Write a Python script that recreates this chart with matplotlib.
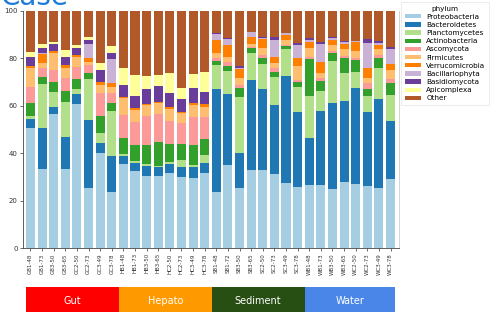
"""Stacked phylum composition per sample, with habitat strips underneath."""
import matplotlib

matplotlib.use("Agg")
import matplotlib.pyplot as plt  # noqa: E402
import numpy as np  # noqa: E402

SAMPLES = [
    "GB1-48", "GB1-73", "GB3-50", "GB3-65", "GC2-50", "GC2-73", "GC3-49", "GC3-78",
    "HB1-48", "HB1-73", "HB3-50", "HB3-65", "HC2-50", "HC2-73", "HC3-49", "HC3-78",
    "SB1-48", "SB1-72", "SB3-50", "SB3-65", "SC2-50", "SC2-73", "SC3-49", "SC3-78",
    "WB1-48", "WB1-73", "WB3-50", "WB3-65", "WC2-50", "WC2-73", "WC3-49", "WC3-78",
]

PHYLA = [
    "Proteobacteria", "Bacteroidetes", "Planctomycetes", "Actinobacteria",
    "Ascomycota", "Firmicutes", "Verrucomicrobia", "Bacillariophyta",
    "Basidiomycota", "Apicomplexa", "Other",
]

# relative abundance (%) per sample
proteobacteria = [50.8, 33.3, 56.4, 33.3, 60.6, 25.3, 40.0, 23.9,
                  35.5, 32.7, 30.6, 30.5, 31.6, 29.9, 29.5, 31.6,
                  23.9, 35.1, 25.3, 33.0, 33.0, 31.2, 27.4, 26.0,
                  26.7, 26.7, 25.0, 28.1, 27.1, 26.2, 25.3, 29.2]
bacteroidetes = [3.7, 17.2, 3.2, 13.7, 4.2, 28.7, 4.2, 15.0,
                 3.4, 3.4, 4.1, 3.6, 3.8, 4.5, 4.6, 4.2,
                 43.0, 29.7, 15.0, 37.9, 33.9, 29.2, 45.3, 31.3,
                 19.6, 31.1, 36.3, 33.9, 40.3, 31.1, 37.4, 24.4]
planctomycetes = [1.2, 18.5, 6.1, 14.5, 2.3, 17.3, 4.2, 18.9,
                  0.7, 0.8, 0.7, 0.7, 0.8, 2.8, 1.0, 3.5,
                  10.3, 10.0, 23.6, 11.5, 10.6, 11.6, 11.2, 10.8,
                  18.0, 8.4, 17.6, 12.0, 7.0, 7.0, 13.4, 11.0]
actinobacteria = [5.4, 3.3, 4.5, 4.7, 4.2, 2.7, 7.5, 3.2,
                  7.0, 6.6, 8.1, 9.8, 7.6, 6.6, 8.4, 6.7,
                  1.7, 2.0, 3.5, 1.8, 2.8, 2.1, 1.4, 1.8,
                  15.3, 4.3, 3.5, 6.3, 4.9, 2.8, 4.2, 5.2]
ascomycota = [7.0, 3.5, 4.9, 5.4, 5.2, 3.2, 9.4, 4.3,
              9.5, 9.8, 12.2, 11.8, 9.8, 8.8, 11.9, 9.4,
              1.4, 1.5, 1.4, 0.5, 1.1, 1.7, 0.5, 1.0,
              1.1, 1.1, 0.8, 0.7, 1.0, 2.4, 1.1, 1.5]
firmicutes = [7.7, 2.1, 7.3, 4.2, 4.2, 1.4, 3.5, 2.5,
              7.1, 4.9, 4.7, 4.9, 5.1, 4.2, 5.0, 4.2,
              2.1, 2.4, 2.8, 1.2, 2.8, 2.1, 1.9, 5.9,
              3.8, 2.4, 2.4, 2.8, 2.8, 2.1, 2.4, 3.8]
verrucomicrobia = [1.0, 3.8, 0.7, 1.4, 0.7, 1.7, 1.1, 1.7,
                   0.7, 0.7, 0.5, 0.5, 0.9, 0.7, 0.6, 1.0,
                   5.3, 4.9, 3.9, 3.2, 3.8, 2.5, 2.1, 3.2,
                   2.2, 4.6, 2.1, 2.1, 3.6, 4.5, 1.8, 2.4]
bacillariophyta = [0.0, 0.7, 0.0, 0.0, 0.0, 5.6, 0.0, 10.2,
                   0.0, 0.0, 0.0, 0.0, 0.0, 0.0, 0.0, 0.0,
                   2.4, 2.4, 0.6, 1.8, 0.7, 7.3, 0.7, 5.6,
                   1.0, 7.3, 1.0, 0.8, 0.6, 10.2, 1.0, 6.3]
basidiomycota = [3.9, 2.1, 2.8, 3.5, 2.8, 1.8, 5.2, 2.7,
                 4.9, 5.4, 6.0, 6.6, 5.7, 5.2, 6.6, 5.1,
                 0.4, 0.7, 0.8, 0.0, 0.4, 1.4, 0.0, 0.7,
                 0.7, 0.8, 0.4, 0.5, 0.0, 1.7, 0.5, 1.1]
apicomplexa = [2.1, 1.4, 1.1, 2.8, 1.3, 1.4, 2.8, 2.9,
               7.3, 8.7, 5.8, 4.6, 8.7, 4.7, 5.7, 8.7,
               0.0, 0.0, 0.0, 0.0, 0.0, 0.0, 0.0, 0.0,
               0.0, 0.0, 0.0, 0.0, 0.0, 0.0, 0.0, 0.0]
other = [17.2, 14.1, 13.0, 16.5, 14.5, 10.9, 22.1, 14.7,
         23.9, 27.0, 27.3, 27.0, 26.0, 32.6, 26.7, 25.6,
         9.5, 11.3, 23.1, 9.1, 10.9, 10.9, 9.5, 13.7,
         11.6, 13.3, 10.9, 12.8, 12.7, 12.0, 12.9, 15.1]

GROUPS = ["Gut", "Hepato", "Sediment", "Water"]
GROUP_SIZES = [8, 8, 8, 8]


def main() -> None:
    series = [proteobacteria, bacteroidetes, planctomycetes, actinobacteria,
              ascomycota, firmicutes, verrucomicrobia, bacillariophyta,
              basidiomycota, apicomplexa, other]
    # Paired palette minus its red
    colors = ["#a6cee3", "#1f78b4", "#b2df8a", "#33a02c", "#fb9a99", "#fdbf6f",
              "#ff7f00", "#cab2d6", "#6a3d9a", "#ffff99", "#b15928"]
    group_colors = ["#ff0000", "#ff9900", "#274e13", "#4a86e8"]

    fig = plt.figure(figsize=(5.04, 3.34), dpi=100)
    ax = fig.add_axes([0.045, 0.2566, 0.7467, 0.711])
    x = np.arange(len(SAMPLES))
    bottom = np.zeros(len(SAMPLES))
    for name, vals, c in zip(PHYLA, series, colors):
        vals = np.asarray(vals)
        ax.bar(x, vals, width=0.78, bottom=bottom, color=c, label=name, linewidth=0)
        bottom += vals

    ax.set_xlim(-0.67, len(SAMPLES) - 0.27)
    ax.set_ylim(0, 100)
    ax.set_yticks([0, 20, 40, 60, 80, 100])
    ax.set_xticks(x)
    ax.set_xticklabels(SAMPLES, rotation=90, fontsize=4, color="#333333")
    ax.tick_params(axis="y", labelsize=5, length=2, width=0.5, pad=1.5, colors="#333333")
    ax.tick_params(axis="x", length=2, width=0.5, pad=1.5, colors="#333333")
    ax.spines["top"].set_visible(False)
    ax.spines["right"].set_color("#cccccc")
    ax.spines["right"].set_linewidth(0.6)
    for s in ("left", "bottom"):
        ax.spines[s].set_color("#444444")
        ax.spines[s].set_linewidth(0.6)

    leg = ax.legend(title="phylum", loc="upper left", bbox_to_anchor=(401 / 504, 1 - 2 / 334),
                    bbox_transform=fig.transFigure, borderaxespad=0, fontsize=5.2,
                    title_fontsize=5.2, handlelength=2.2, handleheight=0.55,
                    labelspacing=0.3, handletextpad=0.8, borderpad=0.5,
                    frameon=True, fancybox=False)
    leg.get_frame().set_edgecolor("#dddddd")
    leg.get_frame().set_linewidth(0.5)

    # habitat strips under the bars
    gax = fig.add_axes([0.045, 0.065, 0.7467, 0.0766])
    gax.set_xlim(ax.get_xlim())
    gax.set_ylim(0, 1)
    start = -0.4
    for name, n, c in zip(GROUPS, GROUP_SIZES, group_colors):
        end = start + n if name != GROUPS[-1] else start + n - 0.2
        gax.axvspan(start, end, color=c, lw=0)
        gax.text((start + end) / 2, 0.45, name, color="white", fontsize=7,
                 ha="center", va="center")
        start = start + n
    gax.axis("off")

    # slide title, mostly cropped off by the screenshot
    fig.text(0.0, 1 - 5 / 334, "Case", color="#1c7bd6", fontsize=20,
             ha="left", va="baseline")

    fig.savefig("out.png", dpi=100)
    plt.close(fig)


if __name__ == "__main__":
    main()
